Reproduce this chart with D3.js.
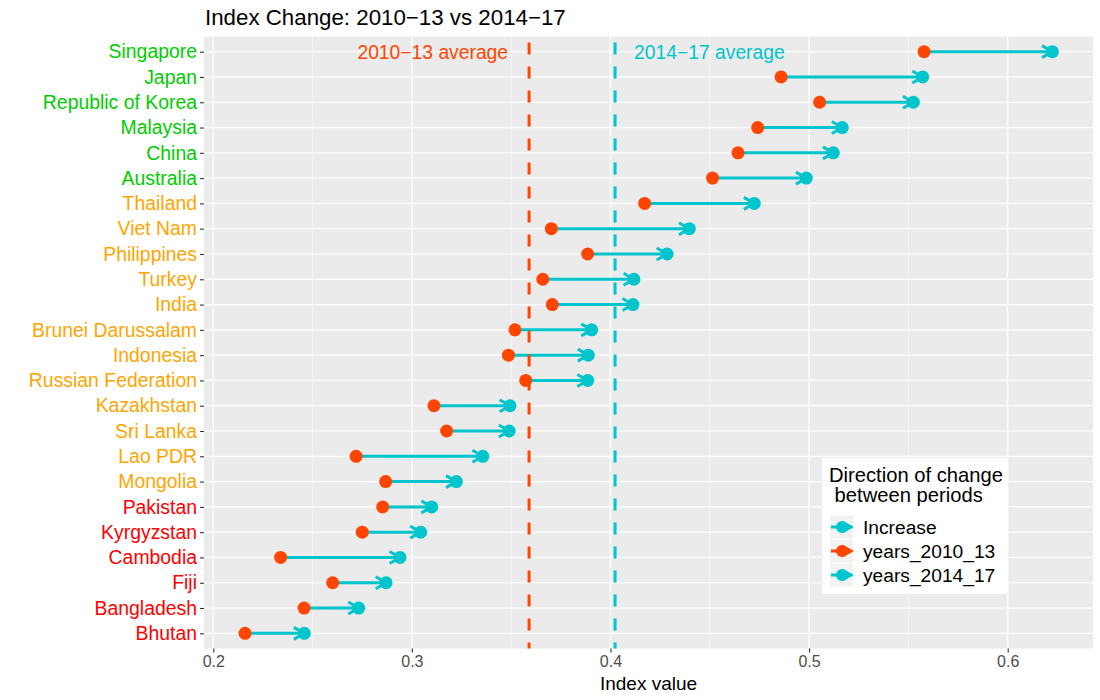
<!DOCTYPE html>
<html>
<head>
<meta charset="utf-8">
<script src="https://cdn.jsdelivr.net/npm/d3@7"></script>
<style>
  html, body { margin: 0; padding: 0; background: #fff; }
  svg { display: block; font-family: "Liberation Sans", Arial, Helvetica, sans-serif; }
</style>
</head>
<body>
<svg id="chart" width="1100" height="700"></svg>
<script>
// ---- data ----
const countries = ["Singapore","Japan","Republic of Korea","Malaysia","China","Australia",
  "Thailand","Viet Nam","Philippines","Turkey","India","Brunei Darussalam","Indonesia",
  "Russian Federation","Kazakhstan","Sri Lanka","Lao PDR","Mongolia","Pakistan",
  "Kyrgyzstan","Cambodia","Fiji","Bangladesh","Bhutan"];
const years_2010_13 = [0.5579,0.4859,0.5053,0.4741,0.4642,0.4514,0.4172,0.3702,0.3885,0.3659,
  0.3707,0.3519,0.3486,0.3573,0.3111,0.3175,0.2719,0.2868,0.2853,0.2750,0.2339,0.2601,0.2457,0.2160];
const years_2014_17 = [0.6225,0.5572,0.5525,0.5167,0.5122,0.4986,0.4724,0.4397,0.4285,0.4118,
  0.4113,0.3905,0.3888,0.3885,0.3494,0.3490,0.3357,0.3224,0.3100,0.3044,0.2940,0.2870,0.2732,0.2458];
const tier = ["top","top","top","top","top","top","mid","mid","mid","mid","mid","mid","mid",
  "mid","mid","mid","mid","mid","low","low","low","low","low","low"];
const averages = [0.359, 0.4023];
const averageLabels = ["2010\u221213 average", "2014\u221217 average"];
const xTicks = [0.2, 0.3, 0.4, 0.5, 0.6];
const xMinor = [0.25, 0.35, 0.45, 0.55];
const legendLabels = ["Increase", "years_2010_13", "years_2014_17"];

// ---- styles ----
const ORANGE = "#FF4500", CYAN = "#00C5CD";
const tierColor = { top: "#00CD00", mid: "#FFA500", low: "#FF0000" };
const legendColors = [CYAN, ORANGE, CYAN];

const svg = d3.select("#chart");
const P = { left: 204, right: 1093, top: 36.5, bottom: 648.5 };

const x = d3.scaleLinear().domain([0.19532, 0.64295]).range([P.left, P.right]);
const y = d3.scalePoint().domain(countries).range([P.top, P.bottom]).padding(0.6);

// panel
svg.append("rect").attr("x", P.left).attr("y", P.top)
  .attr("width", P.right - P.left).attr("height", P.bottom - P.top).attr("fill", "#EBEBEB");

const grid = svg.append("g");
grid.selectAll(".minor").data(xMinor).join("line")
  .attr("x1", d => x(d)).attr("x2", d => x(d)).attr("y1", P.top).attr("y2", P.bottom)
  .attr("stroke", "#fff").attr("stroke-width", 0.6);
grid.selectAll(".major").data(xTicks).join("line")
  .attr("x1", d => x(d)).attr("x2", d => x(d)).attr("y1", P.top).attr("y2", P.bottom)
  .attr("stroke", "#fff").attr("stroke-width", 1.2);
grid.selectAll(".hmajor").data(countries).join("line")
  .attr("x1", P.left).attr("x2", P.right).attr("y1", d => y(d)).attr("y2", d => y(d))
  .attr("stroke", "#fff").attr("stroke-width", 1.2);

const rows = countries.map((c, i) => ({ c, a: years_2010_13[i], b: years_2014_17[i], t: tier[i] }));

// segments with open arrows
const seg = svg.append("g");
rows.forEach(r => {
  const x1 = x(r.a), x2 = x(r.b), yy = y(r.c);
  seg.append("line").attr("x1", x1).attr("x2", x2).attr("y1", yy).attr("y2", yy)
    .attr("stroke", CYAN).attr("stroke-width", 3);
  const L = 12, ang = Math.PI / 6;
  seg.append("path")
    .attr("d", `M${x2 - L * Math.cos(ang)},${yy - L * Math.sin(ang)}L${x2},${yy}L${x2 - L * Math.cos(ang)},${yy + L * Math.sin(ang)}`)
    .attr("fill", "none").attr("stroke", CYAN).attr("stroke-width", 3)
    .attr("stroke-linecap", "butt").attr("stroke-linejoin", "miter");
});

// average lines
const avgColors = [ORANGE, CYAN];
svg.append("g").selectAll("line").data(averages).join("line")
  .attr("x1", d => x(d)).attr("x2", d => x(d)).attr("y1", P.bottom).attr("y2", P.top)
  .attr("stroke", (d, i) => avgColors[i]).attr("stroke-width", 3)
  .attr("stroke-dasharray", "12,12").attr("stroke-dashoffset", 6);

// points
svg.append("g").selectAll("circle").data(rows).join("circle")
  .attr("cx", d => x(d.a)).attr("cy", d => y(d.c)).attr("r", 6.5).attr("fill", ORANGE);
svg.append("g").selectAll("circle").data(rows).join("circle")
  .attr("cx", d => x(d.b)).attr("cy", d => y(d.c)).attr("r", 6.5).attr("fill", CYAN);

// average annotations
svg.append("text").attr("x", x(averages[0]) - 21).attr("y", y(countries[0]) + 7)
  .attr("text-anchor", "end").attr("font-size", 19.3).attr("fill", ORANGE).text(averageLabels[0]);
svg.append("text").attr("x", x(averages[1]) + 19).attr("y", y(countries[0]) + 7)
  .attr("text-anchor", "start").attr("font-size", 19.3).attr("fill", CYAN).text(averageLabels[1]);

// x axis
const xAxis = svg.append("g").attr("transform", `translate(0,${P.bottom})`)
  .call(d3.axisBottom(x).tickValues(xTicks).tickSize(4).tickPadding(3).tickFormat(d3.format(".1f")));
xAxis.select(".domain").remove();
xAxis.selectAll("line").attr("stroke", "#333").attr("stroke-width", 1.1);
xAxis.selectAll("text").attr("font-size", 16).attr("fill", "#4D4D4D")
  .attr("font-family", "'Liberation Sans', Arial, sans-serif");

// y axis
const yAxis = svg.append("g").attr("transform", `translate(${P.left},0)`)
  .call(d3.axisLeft(y).tickSize(4).tickPadding(3));
yAxis.select(".domain").remove();
yAxis.selectAll("line").attr("stroke", "#333").attr("stroke-width", 1.1);
yAxis.selectAll("text").attr("font-size", 19.4)
  .attr("font-family", "'Liberation Sans', Arial, sans-serif")
  .attr("fill", d => tierColor[tier[countries.indexOf(d)]]);

// titles
svg.append("text").attr("x", 205).attr("y", 25).attr("font-size", 22.3).attr("fill", "#000")
  .text("Index Change: 2010\u221213 vs 2014\u221217");
svg.append("text").attr("x", (P.left + P.right) / 2).attr("y", 690).attr("text-anchor", "middle")
  .attr("font-size", 19).attr("fill", "#000").text("Index value");

// legend
const lg = svg.append("g");
lg.append("rect").attr("x", 822).attr("y", 458).attr("width", 186).attr("height", 136).attr("fill", "#fff");
lg.append("text").attr("x", 829).attr("y", 482).attr("font-size", 20.2).text("Direction of change");
lg.append("text").attr("x", 829).attr("y", 502).attr("font-size", 20.2).attr("xml:space", "preserve").text(" between periods");
legendLabels.forEach((lab, i) => {
  const cy = 527 + i * 24;
  lg.append("rect").attr("x", 830).attr("y", cy - 11.5).attr("width", 23).attr("height", 23).attr("fill", "#F2F2F2");
  const c = legendColors[i];
  lg.append("line").attr("x1", 831).attr("x2", 851).attr("y1", cy).attr("y2", cy)
    .attr("stroke", c).attr("stroke-width", 3);
  lg.append("path").attr("d", `M${851 - 9},${cy - 5}L851,${cy}L${851 - 9},${cy + 5}`)
    .attr("fill", "none").attr("stroke", c).attr("stroke-width", 3);
  lg.append("circle").attr("cx", 842).attr("cy", cy).attr("r", 6).attr("fill", c);
  lg.append("text").attr("x", 863).attr("y", cy + 7).attr("font-size", 19.2).text(lab);
});
</script>
</body>
</html>
